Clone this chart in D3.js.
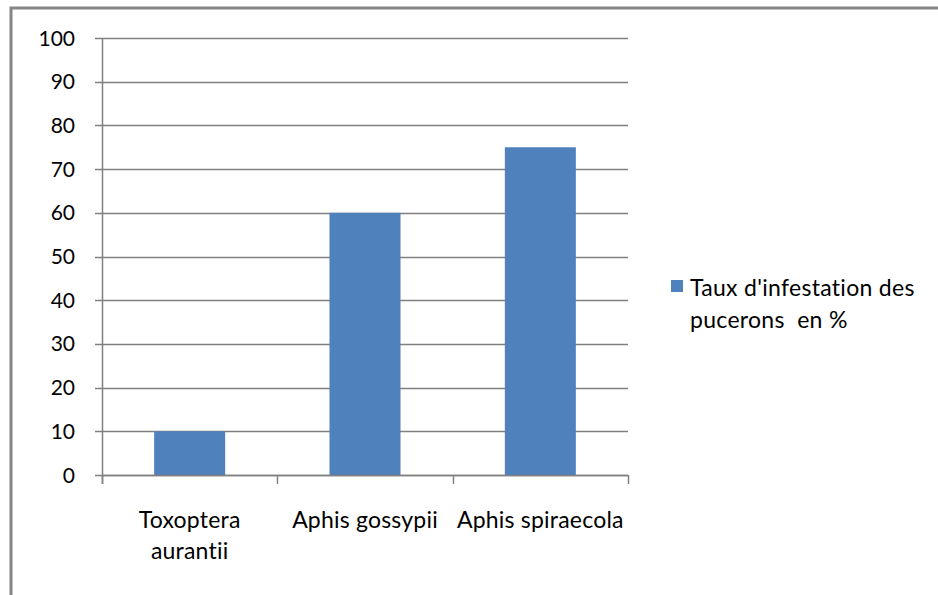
<!DOCTYPE html>
<html>
<head>
<meta charset="utf-8">
<script src="https://cdn.jsdelivr.net/npm/d3@7"></script>
<style>
  html, body { margin: 0; padding: 0; background: #fff; }
  svg { display: block; }
  text { font-family: Lato, "Open Sans", sans-serif; fill: #000; font-variant-ligatures: none; }
</style>
</head>
<body>
<svg id="chart" width="938" height="595"></svg>
<script>
// Infestation rate per aphid species
const categories = [["Toxoptera", "aurantii"], ["Aphis gossypii"], ["Aphis spiraecola"]];
const values = [10, 60, 75];
const yTicks = [0, 10, 20, 30, 40, 50, 60, 70, 80, 90, 100];
const legendLines = ["Taux d'infestation des", "pucerons  en %"];

const svg = d3.select("#chart");
const gridColor = "#808080";
const barColor = "#4F81BD";

// outer frame (only top and left edges fall inside the canvas)
svg.append("path")
  .attr("d", "M11,595 V8 H938")
  .attr("fill", "none")
  .attr("stroke", "#868686")
  .attr("stroke-width", 3);

const plot = { left: 102, right: 628, top: 38, bottom: 475 };

const x = d3.scaleBand()
  .domain(d3.range(categories.length))
  .range([plot.left, plot.right])
  .paddingInner(0.595)
  .paddingOuter(0.2975);

const xTicks = d3.scaleBand()
  .domain(d3.range(categories.length))
  .range([plot.left, plot.right]);

const y = d3.scaleLinear().domain([0, 100]).range([plot.bottom, plot.top]);

// horizontal gridlines
svg.append("g")
  .selectAll("line")
  .data(yTicks)
  .join("line")
  .attr("x1", plot.left - 7)
  .attr("x2", plot.right)
  .attr("y1", d => Math.round(y(d)) + 0.5)
  .attr("y2", d => Math.round(y(d)) + 0.5)
  .attr("stroke", gridColor)
  .attr("stroke-width", 1.5);

// y tick labels
svg.append("g")
  .selectAll("text")
  .data(yTicks)
  .join("text")
  .attr("x", 75)
  .attr("y", d => y(d))
  .attr("dy", "0.36em")
  .attr("text-anchor", "end")
  .attr("font-size", 21)
  .text(d => d);

// bars
svg.append("g")
  .selectAll("rect")
  .data(values)
  .join("rect")
  .attr("x", (d, i) => x(i))
  .attr("width", x.bandwidth())
  .attr("y", d => y(d))
  .attr("height", d => y(0) - y(d))
  .attr("fill", barColor);

// y axis line
svg.append("line")
  .attr("x1", plot.left + 0.5).attr("x2", plot.left + 0.5)
  .attr("y1", plot.top).attr("y2", plot.bottom + 9)
  .attr("stroke", gridColor).attr("stroke-width", 1.5);

// x axis line
svg.append("line")
  .attr("x1", plot.left).attr("x2", plot.right)
  .attr("y1", plot.bottom + 0.5).attr("y2", plot.bottom + 0.5)
  .attr("stroke", gridColor).attr("stroke-width", 1.5);

// category boundary ticks
const boundaries = d3.range(categories.length + 1).map(i =>
  i < categories.length ? xTicks(i) : plot.right);
svg.append("g")
  .selectAll("line")
  .data(boundaries)
  .join("line")
  .attr("x1", d => Math.round(d) + 0.5)
  .attr("x2", d => Math.round(d) + 0.5)
  .attr("y1", plot.bottom)
  .attr("y2", plot.bottom + 9)
  .attr("stroke", gridColor)
  .attr("stroke-width", 1.5);

// category labels
const catG = svg.append("g");
categories.forEach((lines, i) => {
  const cx = xTicks(i) + xTicks.bandwidth() / 2;
  const t = catG.append("text")
    .attr("x", cx)
    .attr("y", 528)
    .attr("text-anchor", "middle")
    .attr("font-size", 23)
    .attr("letter-spacing", 0.2);
  lines.forEach((ln, j) => {
    t.append("tspan").attr("x", cx).attr("dy", j === 0 ? 0 : 31).text(ln);
  });
});

// legend
svg.append("rect")
  .attr("x", 671).attr("y", 280)
  .attr("width", 12).attr("height", 12)
  .attr("fill", barColor);
const lg = svg.append("text")
  .attr("x", 690).attr("y", 296)
  .attr("font-size", 23)
  .attr("letter-spacing", 0.3)
  .attr("xml:space", "preserve");
legendLines.forEach((ln, j) => {
  lg.append("tspan").attr("x", 690).attr("dy", j === 0 ? 0 : 32).text(ln);
});
</script>
</body>
</html>
